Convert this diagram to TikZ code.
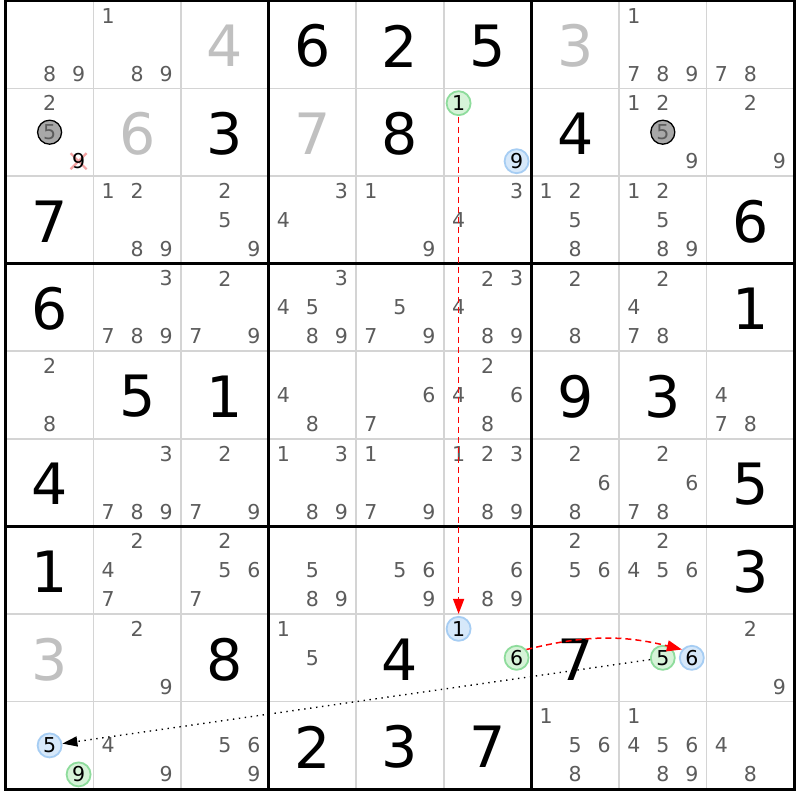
\documentclass[tikz,border=0pt]{standalone}
\usepackage{fontspec}
\setmainfont{DejaVu Sans}
\usetikzlibrary{arrows.meta}
\definecolor{candc}{HTML}{5C5C5C}
\definecolor{solvedc}{HTML}{C0C0C0}
\definecolor{gridc}{HTML}{D4D4D4}
\definecolor{greenfill}{HTML}{D6F3D8}
\definecolor{greenline}{HTML}{8EDC9C}
\definecolor{bluefill}{HTML}{D6E8FA}
\definecolor{blueline}{HTML}{A6CDF3}
\definecolor{xred}{HTML}{F3A3A3}
\definecolor{dotfill}{HTML}{A8A8A8}
\tikzset{
  thingrid/.style={draw=gridc, line width=1.5pt},
  thickgrid/.style={draw=black, line width=3pt, line cap=rect},
  givenstyle/.style={inner sep=0pt, font=\fontsize{57}{60}\selectfont, text=black},
  solvedstyle/.style={givenstyle, text=solvedc},
  candstyle/.style={inner sep=0pt, font=\fontsize{20.5}{24}\selectfont, text=candc},
  greenhl/.style={candstyle, text=black, circle, minimum size=24pt, draw=greenline, fill=greenfill, line width=1.8pt},
  bluehl/.style={candstyle, text=black, circle, minimum size=24pt, draw=blueline, fill=bluefill, line width=1.8pt},
  grayhl/.style={candstyle, text=candc, circle, minimum size=24pt, draw=black, fill=dotfill, line width=1.3pt},
  redlink/.style={draw=red, line width=1.5pt, dash pattern=on 6pt off 4pt, -{Triangle[length=15pt,width=11pt]}},
  dotlink/.style={draw=black, line width=1.4pt, dash pattern=on 1.4pt off 4.6pt, -{Triangle[length=15pt,width=10pt]}}
}
\newcommand\givn[4]{\node[#4] (d#1#2) at ({5.8+87.6*(#2+0.5)},{-(0.8+87.6*(#1+0.5))-1.5}) {#3};}
\newcommand\cands[3]{\foreach \p in {#3}{\node[candstyle] (k#1#2\p) at ({5.8+87.6*(#2+0.5)+29*(mod(\p-1,3)-1)},{-(0.8+87.6*(#1+0.5))-29*(floor((\p-1)/3)-1)}) {\p};}}
\newcommand\cnd[5]{\node[#4] (#5) at ({5.8+87.6*(#2+0.5)+29*(mod(#3-1,3)-1)},{-(0.8+87.6*(#1+0.5))-29*(floor((#3-1)/3)-1)}) {#3};}
\begin{document}
\begin{tikzpicture}[x=1pt,y=1pt]
\useasboundingbox (0,0) rectangle (800,-800);
\fill[white] (0,0) rectangle (800,-800);
% grid
\foreach \i in {1,2,4,5,7,8}{
  \draw[thingrid] ({5.8+87.6*\i},-0.8) -- ({5.8+87.6*\i},-789.2);
  \draw[thingrid] (5.8,{-0.8-87.6*\i}) -- (794.2,{-0.8-87.6*\i});
}
\foreach \i in {0,3,6,9}{
  \draw[thickgrid] ({5.8+87.6*\i},-0.8) -- ({5.8+87.6*\i},-789.2);
  \draw[thickgrid] (5.8,{-0.8-87.6*\i}) -- (794.2,{-0.8-87.6*\i});
}
% givens
\foreach \r/\c/\d in {0/3/6,0/4/2,0/5/5,1/2/3,1/4/8,1/6/4,2/0/7,2/8/6,3/0/6,3/8/1,4/1/5,4/2/1,4/6/9,4/7/3,5/0/4,5/8/5,6/0/1,6/8/3,7/2/8,7/4/4,7/6/7,8/3/2,8/4/3,8/5/7}{
  \givn{\r}{\c}{\d}{givenstyle}
}
\foreach \r/\c/\d in {0/2/4,0/6/3,1/1/6,1/3/7,7/0/3}{
  \givn{\r}{\c}{\d}{solvedstyle}
}
% candidates
\cands{0}{0}{8,9}
\cands{0}{1}{1,8,9}
\cands{0}{7}{1,7,8,9}
\cands{0}{8}{7,8}
\cands{1}{0}{2}
\cands{1}{7}{1,2,9}
\cands{1}{8}{2,9}
\cands{2}{1}{1,2,8,9}
\cands{2}{2}{2,5,9}
\cands{2}{3}{3,4}
\cands{2}{4}{1,9}
\cands{2}{5}{3,4}
\cands{2}{6}{1,2,5,8}
\cands{2}{7}{1,2,5,8,9}
\cands{3}{1}{3,7,8,9}
\cands{3}{2}{2,7,9}
\cands{3}{3}{3,4,5,8,9}
\cands{3}{4}{5,7,9}
\cands{3}{5}{2,3,4,8,9}
\cands{3}{6}{2,8}
\cands{3}{7}{2,4,7,8}
\cands{4}{0}{2,8}
\cands{4}{3}{4,8}
\cands{4}{4}{6,7}
\cands{4}{5}{2,4,6,8}
\cands{4}{8}{4,7,8}
\cands{5}{1}{3,7,8,9}
\cands{5}{2}{2,7,9}
\cands{5}{3}{1,3,8,9}
\cands{5}{4}{1,7,9}
\cands{5}{5}{1,2,3,8,9}
\cands{5}{6}{2,6,8}
\cands{5}{7}{2,6,7,8}
\cands{6}{1}{2,4,7}
\cands{6}{2}{2,5,6,7}
\cands{6}{3}{5,8,9}
\cands{6}{4}{5,6,9}
\cands{6}{5}{6,8,9}
\cands{6}{6}{2,5,6}
\cands{6}{7}{2,4,5,6}
\cands{7}{1}{2,9}
\cands{7}{3}{1,5}
\cands{7}{8}{2,9}
\cands{8}{1}{4,9}
\cands{8}{2}{5,6,9}
\cands{8}{6}{1,5,6,8}
\cands{8}{7}{1,4,5,6,8,9}
\cands{8}{8}{4,8}
% special candidates
\cnd{1}{0}{5}{grayhl}{s105}
\cnd{1}{7}{5}{grayhl}{s175}
\draw[xred, line width=2.2pt] ({5.8+87.6*0.5+29-8},{-(0.8+87.6*1.5)-29+8}) -- ({5.8+87.6*0.5+29+8},{-(0.8+87.6*1.5)-29-8});
\draw[xred, line width=2.2pt] ({5.8+87.6*0.5+29-8},{-(0.8+87.6*1.5)-29-8}) -- ({5.8+87.6*0.5+29+8},{-(0.8+87.6*1.5)-29+8});
\cnd{1}{0}{9}{candstyle,text=black}{x109}
\cnd{1}{5}{1}{greenhl}{h151}
\cnd{1}{5}{9}{bluehl}{h159}
\cnd{7}{5}{1}{bluehl}{h751}
\cnd{7}{5}{6}{greenhl}{h756}
\cnd{7}{7}{5}{greenhl}{h775}
\cnd{7}{7}{6}{bluehl}{h776}
\cnd{8}{0}{5}{bluehl}{h805}
\cnd{8}{0}{9}{greenhl}{h809}
% links
\draw[redlink, shorten <=1pt, shorten >=2pt] (h151.south) -- (h751.north);
\draw[redlink] (h756.40) to[bend left=14] (h776.140);
\draw[dotlink] (h775) -- (h805);
\end{tikzpicture}
\end{document}
